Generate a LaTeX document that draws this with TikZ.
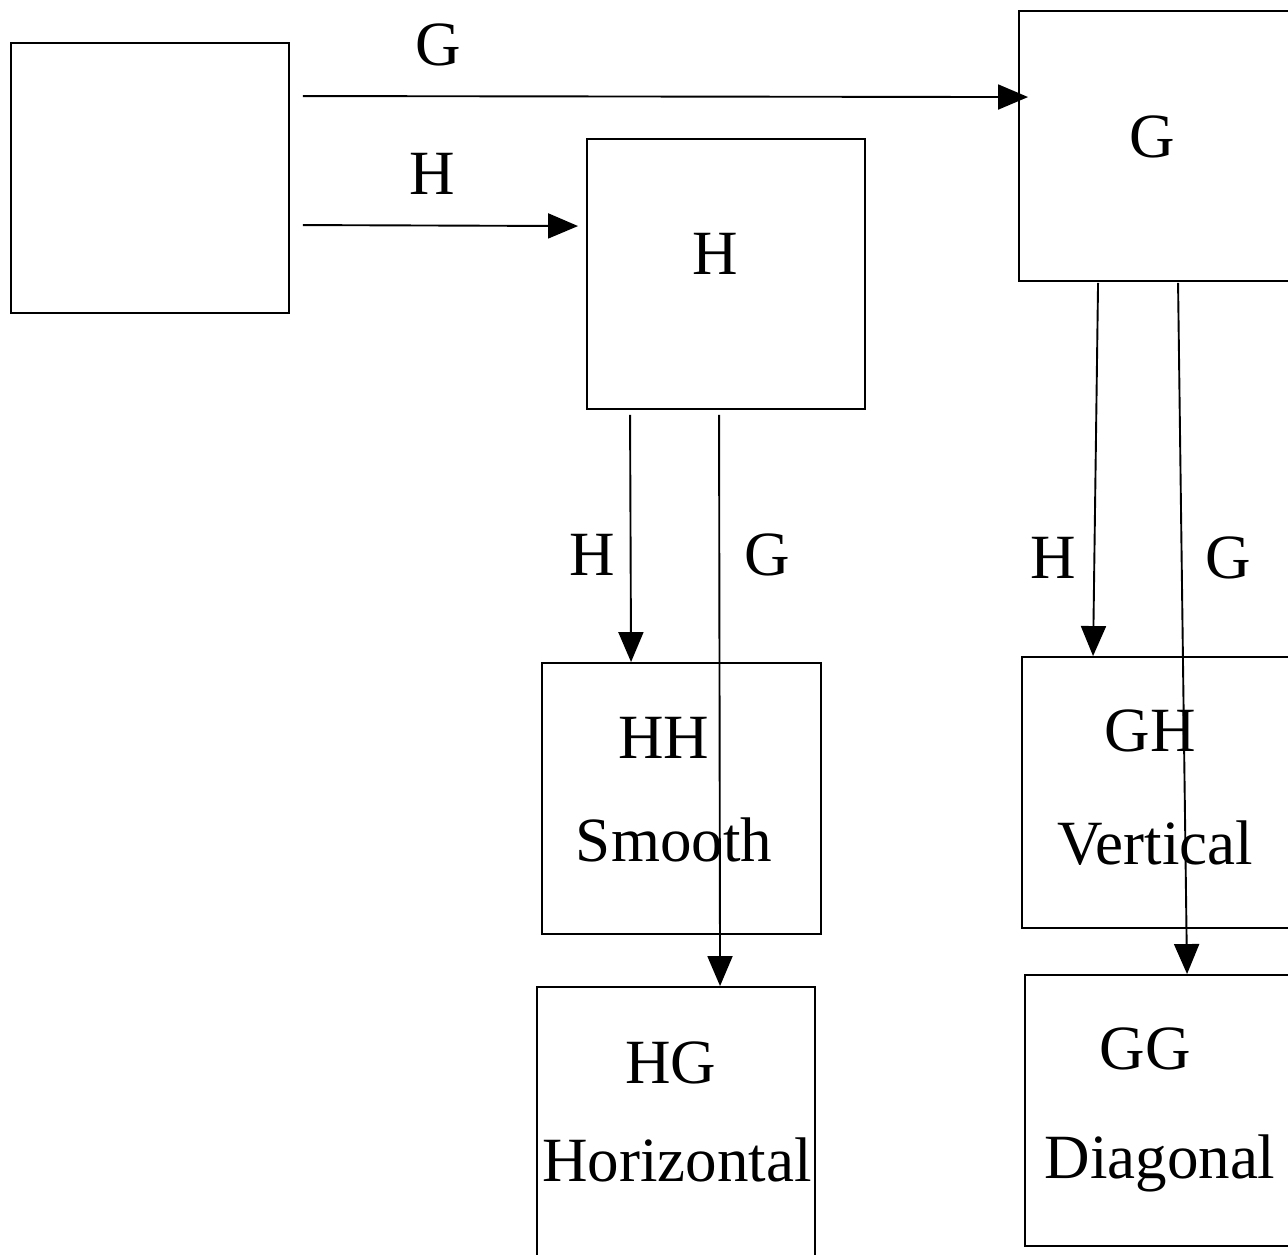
\documentclass[tikz,border=0pt]{standalone}
\usepackage{fontspec}
\setmainfont{Liberation Serif}
\usetikzlibrary{arrows.meta,calc}
\tikzset{
  box/.style={draw, line width=1.9pt, inner sep=0pt, minimum width=278pt, minimum height=270pt},
  lbl/.style={anchor=base, inner sep=0pt, font=\fontsize{63}{70}\selectfont},
  arr/.style={line width=1.9pt, -{Triangle[length=30pt,width=25pt]}}
}
\begin{document}
\begin{tikzpicture}[x=1pt,y=-1pt]
\useasboundingbox (0,0) rectangle (1288,1254);
\clip (0,0) rectangle (1288,1254);
% boxes
\node[box] (inbox) at (150,178) {};
\node[box] (hbox) at (726,274) {};
\node[box] (gbox) at (1158,146) {};
\node[box, minimum width=279pt, minimum height=271pt] (hh) at (681.5,798.5) {};
\node[box] (hg) at (676,1122) {};
\node[box, minimum height=271pt] (gh) at (1161,792.5) {};
\node[box, minimum height=271pt] (gg) at (1164,1110.5) {};
% box texts
\node[lbl] (tg) at (1152,157) {G};
\node[lbl] (th) at (715,274) {H};
\node[lbl] (thh) at (664,758) {HH};
\node[lbl] (tsm) at (674,861) {Smooth};
\node[lbl] (tgh) at (1150,751) {GH};
\node[lbl] (tve) at (1155,864) {Vertical};
\node[lbl] (thg) at (671,1083) {HG};
\node[lbl] (tho) at (677,1181) {Horizontal};
\node[lbl] (tgg) at (1145,1069) {GG};
\node[lbl] (tdi) at (1160,1178) {Diagonal};
% edge labels
\node[lbl] (lg1) at (438,65) {G};
\node[lbl] (lh1) at (432,194) {H};
\node[lbl] (lh2) at (592,575) {H};
\node[lbl] (lg2) at (767,575) {G};
\node[lbl] (lh3) at (1053,578) {H};
\node[lbl] (lg3) at (1228,578) {G};
% connectors
\draw[arr] ($(inbox.north east)+(13,54)$) -- ($(gbox.north west)+(10,87)$);
\draw[arr] ($(inbox.north east)+(13,183)$) -- ($(hbox.north west)+(-8,88)$);
\draw[arr] ($(hbox.south west)+(44,5)$) -- ($(hh.north west)+(90,0)$);
\draw[arr] ($(hbox.south west)+(133,5)$) -- ($(hg.north west)+(184,0)$);
\draw[arr] ($(gbox.south west)+(80,1)$) -- ($(gh.north west)+(72,0)$);
\draw[arr] ($(gbox.south west)+(160,1)$) -- ($(gg.north west)+(163,0)$);
\end{tikzpicture}
\end{document}
